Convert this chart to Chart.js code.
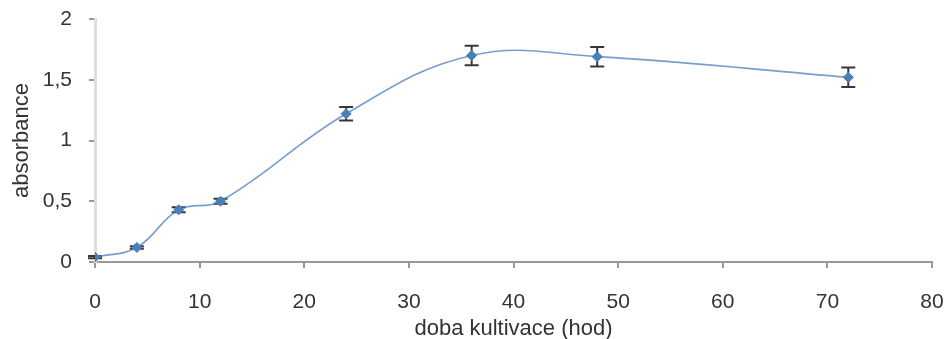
<!DOCTYPE html>
<html>
<head>
<meta charset="utf-8">
<script src="https://cdn.jsdelivr.net/npm/chart.js@4.4.1/dist/chart.umd.min.js"></script>
<style>
  html, body { margin: 0; padding: 0; background: #fff; }
  #wrap { width: 946px; height: 339px; position: relative; }
</style>
</head>
<body>
<div id="wrap"><canvas id="c" width="946" height="339"></canvas></div>
<script>
// Data
const hours = [0, 4, 8, 12, 24, 36, 48, 72];
const absorbance = [0.04, 0.12, 0.43, 0.50, 1.22, 1.70, 1.69, 1.52];
const errors = [0.01, 0.01, 0.02, 0.02, 0.055, 0.08, 0.08, 0.08];
const xTitle = 'doba kultivace (hod)';
const yTitle = 'absorbance';

const points = hours.map((h, i) => ({ x: h, y: absorbance[i] }));

const errorBarPlugin = {
  id: 'errorBars',
  beforeDatasetsDraw(chart) {
    const { ctx, scales: { x, y } } = chart;
    ctx.save();
    ctx.strokeStyle = 'rgba(20,20,20,0.85)';
    ctx.lineWidth = 2;
    const cap = 7;
    hours.forEach((h, i) => {
      const px = x.getPixelForValue(h);
      const top = y.getPixelForValue(absorbance[i] + errors[i]);
      const bot = y.getPixelForValue(absorbance[i] - errors[i]);
      ctx.beginPath();
      ctx.moveTo(px, top); ctx.lineTo(px, bot);
      ctx.moveTo(px - cap, top); ctx.lineTo(px + cap, top);
      ctx.moveTo(px - cap, bot); ctx.lineTo(px + cap, bot);
      ctx.stroke();
    });
    ctx.restore();
  }
};

const FONT = "'Liberation Sans', Arial, sans-serif";

new Chart(document.getElementById('c'), {
  type: 'scatter',
  data: {
    datasets: [{
      data: points,
      showLine: true,
      tension: 0.4,
      borderColor: 'rgba(74,126,187,0.75)',
      borderWidth: 1.6,
      pointStyle: 'rectRot',
      pointRadius: 5,
      pointBackgroundColor: '#4A7EBB',
      pointBorderColor: '#4A7EBB',
      pointBorderWidth: 1
    }]
  },
  options: {
    responsive: false,
    animation: false,
    events: [],
    layout: { padding: { top: 19, right: 14, left: 0, bottom: 0 } },
    plugins: { legend: { display: false }, tooltip: { enabled: false } },
    scales: {
      x: {
        type: 'linear',
        min: 0, max: 80,
        ticks: { stepSize: 10, color: '#333', padding: 22, font: { family: FONT, size: 21 } },
        grid: { drawOnChartArea: false, drawTicks: true, tickLength: 6, color: '#999', lineWidth: 2 },
        border: { display: true, color: '#999', width: 2 },
        title: { display: true, text: xTitle, color: '#333', font: { family: FONT, size: 22 }, padding: { top: 0, bottom: -3 } },
        afterFit(scale) { scale.height = 77; scale.paddingLeft = 0; scale.paddingRight = 0; }
      },
      y: {
        type: 'linear',
        min: 0, max: 2,
        ticks: {
          stepSize: 0.5, color: '#333', padding: 17, font: { family: FONT, size: 21 },
          callback: v => String(v).replace('.', ',')
        },
        grid: { drawOnChartArea: false, drawTicks: true, tickLength: 6, color: '#999', lineWidth: 2 },
        border: { display: true, color: '#dedede', width: 3 },
        title: { display: true, text: yTitle, color: '#333', font: { family: FONT, size: 22 }, padding: { top: 9, bottom: 0 } },
        afterFit(scale) { scale.width = 95; scale.paddingTop = 0; scale.paddingBottom = 0; }
      }
    }
  },
  plugins: [errorBarPlugin]
});
</script>
</body>
</html>
